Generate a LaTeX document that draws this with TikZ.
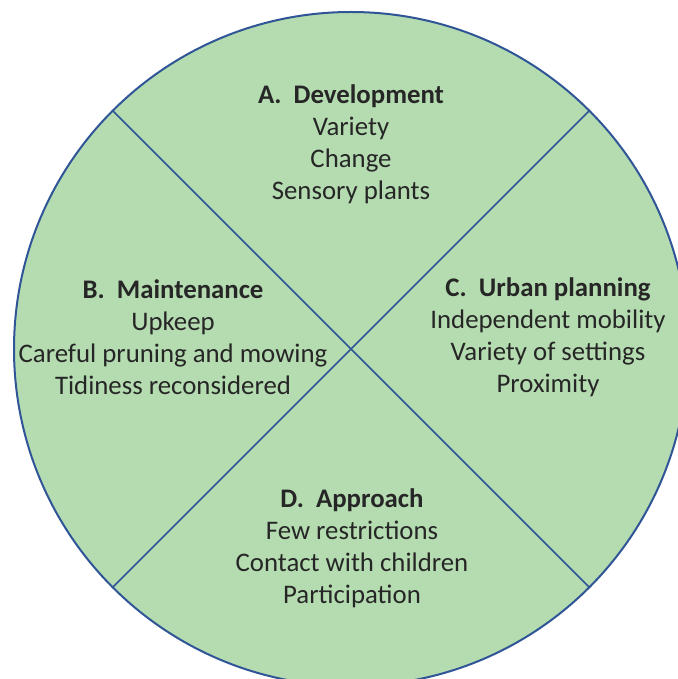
\documentclass[tikz,border=0pt]{standalone}
\usepackage{fontspec}
\setmainfont{Carlito}
\definecolor{leaf}{HTML}{B5DCB0}
\definecolor{rim}{HTML}{2F5597}
\definecolor{ink}{HTML}{262626}

\begin{document}
\begin{tikzpicture}[x=0.5pt,y=-0.5pt,
    area/.style={align=center, text=ink, font=\fontsize{13.4}{16}\selectfont},
    divider/.style={draw=rim, line width=0.75pt}]
        \def\Cx{351  } % Centre x
        \def\Cy{349  } % Centre y
        \def\Cr{337  } % Radius
        \def\Cd{238.3} % Radius times cos 45

        \useasboundingbox (0,0) rectangle (678,679);
        \clip (0,0) rectangle (678,679);

        % Disc
        \filldraw[fill=leaf, draw=rim, line width=1pt] (\Cx,\Cy) circle [radius=\Cr];

        % Dividers
        \coordinate (nw) at (\Cx-\Cd, \Cy-\Cd);
        \coordinate (ne) at (\Cx+\Cd, \Cy-\Cd);
        \coordinate (sw) at (\Cx-\Cd, \Cy+\Cd);
        \coordinate (se) at (\Cx+\Cd, \Cy+\Cd);
        \draw[divider] (nw) -- (se);
        \draw[divider] (ne) -- (sw);

        % Labels
        \node[area] (dev)   at (351, 144) {\textbf{A.\ \ Development}\\Variety\\Change\\Sensory plants};
        \node[area] (maint) at (173, 337) {\textbf{B.\ \ Maintenance}\\Upkeep\\Careful pruning and mowing\\Tidiness reconsidered};
        \node[area] (urban) at (548, 337) {\textbf{C.\ \ Urban planning}\\Independent mobility\\Variety of settings\\Proximity};
        \node[area] (appr)  at (352, 548) {\textbf{D.\ \ Approach}\\Few restrictions\\Contact with children\\Participation};
\end{tikzpicture}
\end{document}
